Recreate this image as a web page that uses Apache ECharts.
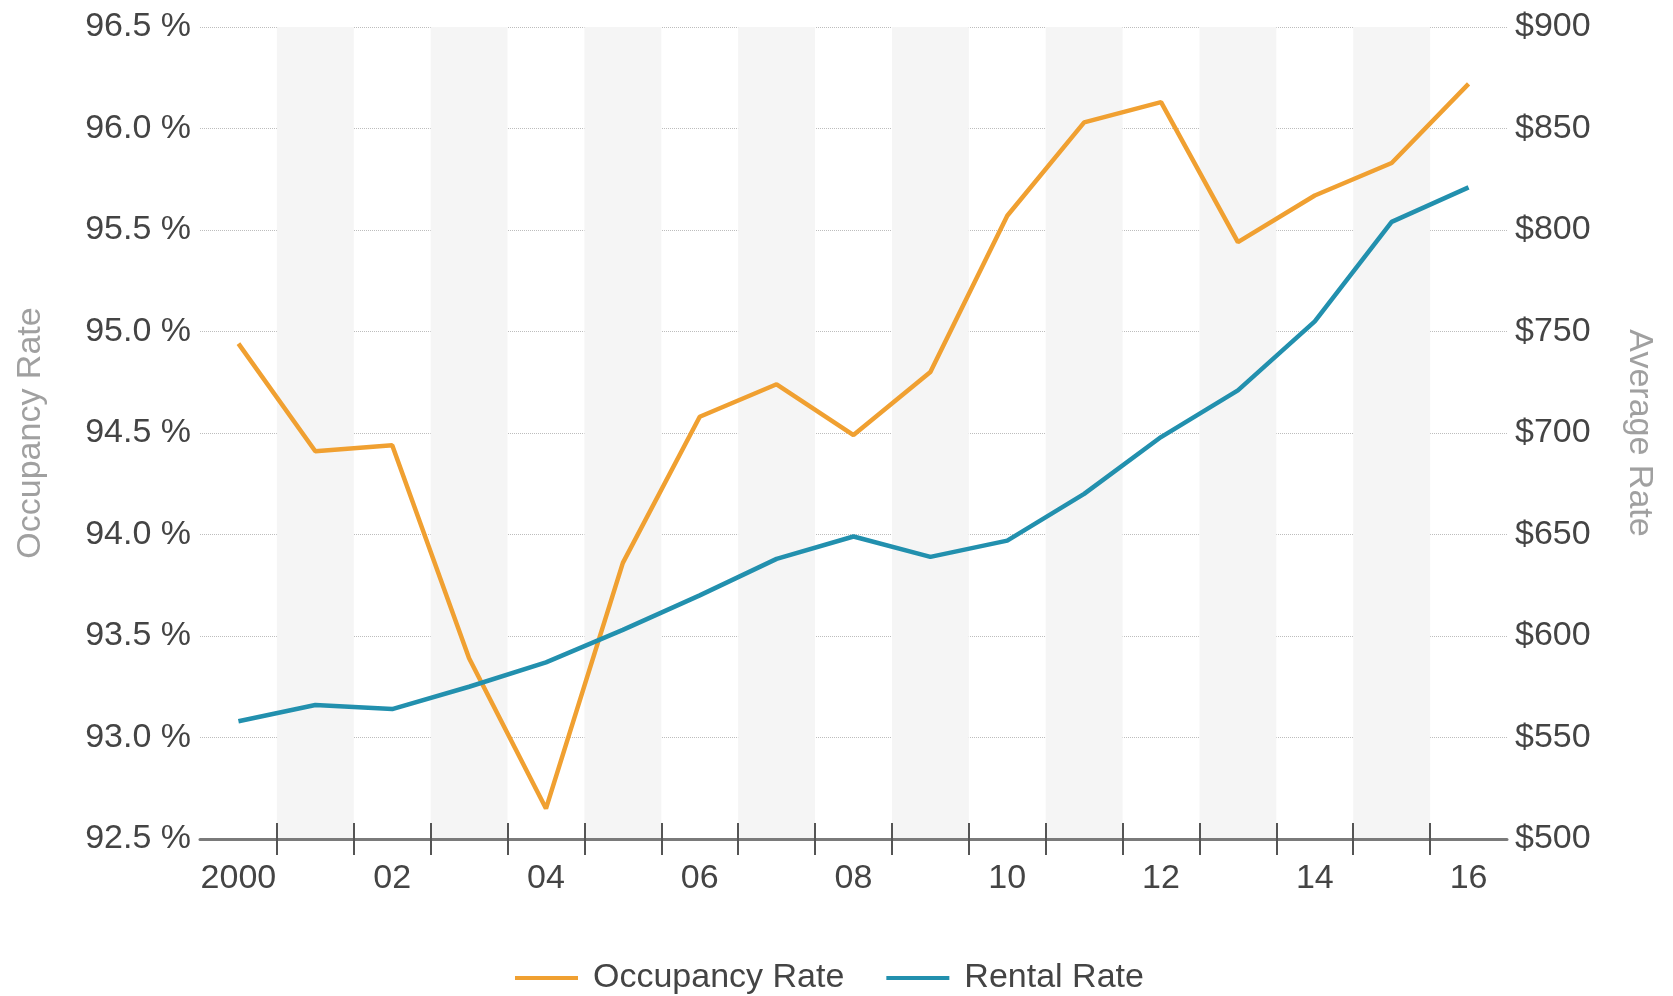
<!DOCTYPE html>
<html>
<head>
<meta charset="utf-8">
<script src="https://cdn.jsdelivr.net/npm/echarts@6/dist/echarts.min.js"></script>
<style>
  html, body { margin: 0; padding: 0; background: #fff; }
  #chart { width: 1673px; height: 996px; }
</style>
</head>
<body>
<div id="chart"></div>
<script>
// years on the x axis (only every other one is labelled)
const years = ['2000', '01', '02', '03', '04', '05', '06', '07', '08',
               '09', '10', '11', '12', '13', '14', '15', '16'];
// occupancy rate, %
const occupancy = [94.94, 94.41, 94.44, 93.39, 92.65, 93.86, 94.58, 94.74, 94.49,
                   94.80, 95.57, 96.03, 96.13, 95.44, 95.67, 95.83, 96.22];
// average rental rate, $
const rental = [558, 566, 564, 575, 587, 603, 620, 638, 649,
                639, 647, 670, 698, 721, 755, 804, 821];

// one slot per band boundary, used only to draw the ticks between years
const boundaries = new Array(years.length + 1).fill('');

const font = 'Liberation Sans, Arial, sans-serif';
const chart = echarts.init(document.getElementById('chart'));

const tickAxis = function (inside) {
    return {
        type: 'category',
        position: 'bottom',
        data: boundaries,
        boundaryGap: false,
        axisLine: { show: false },
        axisLabel: { show: false },
        splitLine: { show: false },
        axisTick: {
            show: true,
            inside: inside,
            length: 16,
            interval: function (i) { return i > 0 && i < boundaries.length - 1; },
            lineStyle: { color: '#555', width: 2 }
        }
    };
};

const option = {
    animation: false,
    grid: { left: 200, right: 166, top: 27, bottom: 157, containLabel: false },
    legend: {
        top: 956,
        left: 510,
        icon: 'rect',
        itemWidth: 63,
        itemHeight: 4,
        itemGap: 42,
        textStyle: { fontFamily: font, fontSize: 34, color: '#444', padding: [0, 0, 0, 10] },
        data: ['Occupancy Rate', 'Rental Rate']
    },
    xAxis: [
        {
            type: 'category',
            position: 'bottom',
            data: years,
            boundaryGap: true,
            axisLine: { show: true, lineStyle: { color: '#7a7a7a', width: 3 } },
            axisTick: { show: false },
            axisLabel: {
                interval: 1,
                margin: 23,
                fontFamily: font,
                fontSize: 34,
                color: '#444'
            },
            splitArea: {
                show: true,
                interval: 0,
                areaStyle: { color: ['rgba(0,0,0,0)', '#f5f5f5'] }
            }
        },
        tickAxis(false),
        tickAxis(true)
    ],
    yAxis: [
        {
            type: 'value',
            position: 'left',
            min: 92.5,
            max: 96.5,
            interval: 0.5,
            name: 'Occupancy Rate',
            nameLocation: 'middle',
            nameGap: 152,
            nameTextStyle: { fontFamily: font, fontSize: 34, color: '#a0a0a0' },
            axisLine: { show: false },
            axisTick: { show: false },
            axisLabel: {
                margin: 9,
                fontFamily: font,
                fontSize: 34,
                color: '#444',
                formatter: function (v) { return v.toFixed(1) + ' %'; }
            },
            splitLine: { show: true, lineStyle: { color: '#bdbdbd', type: 'dotted', width: 1 } }
        },
        {
            type: 'value',
            position: 'right',
            min: 500,
            max: 900,
            interval: 50,
            name: 'Average Rate',
            nameLocation: 'middle',
            nameRotate: -90,
            nameGap: 115,
            nameTextStyle: { fontFamily: font, fontSize: 34, color: '#a0a0a0' },
            axisLine: { show: false },
            axisTick: { show: false },
            axisLabel: {
                margin: 8,
                fontFamily: font,
                fontSize: 34,
                color: '#444',
                formatter: function (v) { return '$' + v; }
            },
            splitLine: { show: false }
        }
    ],
    series: [
        {
            name: 'Occupancy Rate',
            type: 'line',
            xAxisIndex: 0,
            yAxisIndex: 0,
            data: occupancy,
            symbol: 'none',
            lineStyle: { color: '#f0a031', width: 4.5 },
            itemStyle: { color: '#f0a031' }
        },
        {
            name: 'Rental Rate',
            type: 'line',
            xAxisIndex: 0,
            yAxisIndex: 1,
            data: rental,
            symbol: 'none',
            lineStyle: { color: '#2290ae', width: 4.5 },
            itemStyle: { color: '#2290ae' }
        }
    ]
};

chart.setOption(option);
</script>
</body>
</html>
